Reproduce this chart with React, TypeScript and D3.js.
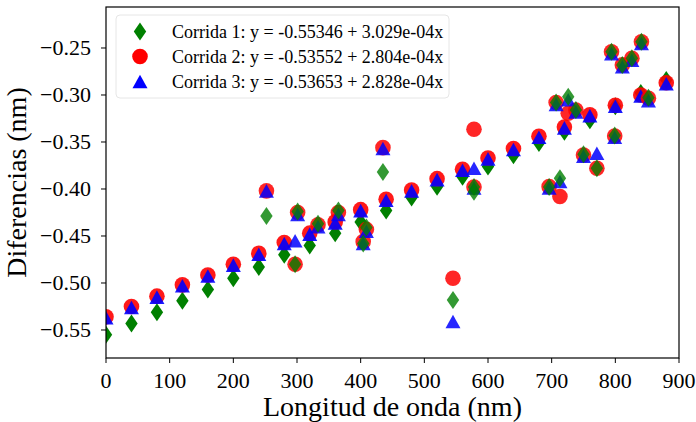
import React from "react";
import * as d3 from "d3";

// Regular sweep (every 40 nm)
const mainX = [0, 40, 80, 120, 160, 200, 240, 280, 320, 360, 400, 440, 480, 520, 560, 600, 640, 680, 720, 760, 800, 840, 880];
const mainRun1 = [-0.555, -0.543, -0.531, -0.519, -0.507, -0.495, -0.483, -0.470, -0.460, -0.447, -0.435, -0.423, -0.409, -0.3975, -0.387, -0.376, -0.364, -0.351, -0.339, -0.327, -0.312, -0.298, -0.284];
const mainRun2 = [-0.536, -0.525, -0.514, -0.502, -0.4915, -0.480, -0.4685, -0.457, -0.447, -0.435, -0.422, -0.411, -0.401, -0.389, -0.379, -0.367, -0.357, -0.344, -0.334, -0.321, -0.311, -0.300, -0.287];
const mainRun3 = [-0.537, -0.526, -0.515, -0.503, -0.4925, -0.481, -0.4695, -0.458, -0.448, -0.436, -0.423, -0.412, -0.402, -0.390, -0.380, -0.368, -0.358, -0.345, -0.335, -0.322, -0.312, -0.301, -0.288];

// Additional measurements
const extraX = [252, 297, 301, 333, 365, 404, 409, 435, 545, 578, 578, 696, 707, 713, 726, 738, 750, 771, 794, 799, 811, 826, 841, 852];
const extraRun1 = [-0.4287, -0.480, -0.424, -0.437, -0.423, -0.458, -0.441, -0.382, -0.518, -0.398, -0.403, -0.398, -0.308, -0.3886, -0.302, -0.316, -0.363, -0.378, -0.254, -0.343, -0.268, -0.261, -0.2433, -0.303];
const extraRun2 = [-0.402, -0.480, -0.425, -0.438, -0.425, -0.456, -0.443, -0.356, -0.495, -0.398, -0.3365, -0.3975, -0.308, -0.408, -0.3195, -0.316, -0.3638, -0.378, -0.254, -0.3436, -0.268, -0.261, -0.2433, -0.3035];
const extraRun3 = [-0.402, -0.455, -0.427, -0.440, -0.427, -0.458, -0.445, -0.357, -0.541, -0.399, -0.378, -0.399, -0.310, -0.392, -0.305, -0.318, -0.365, -0.362, -0.256, -0.345, -0.270, -0.263, -0.2453, -0.306];

const xTicks = [0, 100, 200, 300, 400, 500, 600, 700, 800, 900];
const yTicks = [-0.55, -0.5, -0.45, -0.4, -0.35, -0.3, -0.25];
const legendLabels = [
  "Corrida 1: y = -0.55346 + 3.029e-04x",
  "Corrida 2: y = -0.53552 + 2.804e-04x",
  "Corrida 3: y = -0.53653 + 2.828e-04x",
];

const W = 696;
const H = 422;
const L = 106, R = 679, T = 7, B = 358;
const FONT = "Liberation Serif, Times New Roman, Times, serif";

const xScale = d3.scaleLinear().domain([0, 900]).range([L, R]);
const yScale = d3.scaleLinear().domain([-0.5798, -0.2064]).range([B, T]);

const diamond = (cx: number, cy: number) => {
  const hw = 6.2, hh = 9;
  return `M${cx},${cy - hh}L${cx + hw},${cy}L${cx},${cy + hh}L${cx - hw},${cy}Z`;
};
const triangle = (cx: number, cy: number) => {
  const hw = 7.5, hh = 6.8;
  return `M${cx},${cy - hh}L${cx + hw},${cy + hh}L${cx - hw},${cy + hh}Z`;
};

const GREEN = "#008000";
const RED = "#ff0000";
const BLUE = "#0000ff";

const txt = { fontFamily: FONT };

export default function App() {
  const fmt = (v: number) => v.toFixed(2).replace("-", "\u2212");
  const circles = (xs: number[], ys: number[], op: number, key: string) =>
    xs.map((x, i) => (
      <circle key={key + i} cx={xScale(x)} cy={yScale(ys[i])} r={7.8} fill={RED} fillOpacity={op} />
    ));
  const tris = (xs: number[], ys: number[], op: number, key: string) =>
    xs.map((x, i) => (
      <path key={key + i} d={triangle(xScale(x), yScale(ys[i]))} fill={BLUE} fillOpacity={op} />
    ));
  const dias = (xs: number[], ys: number[], op: number, key: string) =>
    xs.map((x, i) => (
      <path key={key + i} d={diamond(xScale(x), yScale(ys[i]))} fill={GREEN} fillOpacity={op} />
    ));

  const legRows = [31.5, 56.5, 81.5];
  return (
    <svg width={W} height={H} style={{ position: "absolute", left: 0, top: 0, background: "#fff" }}>
      <rect x={0} y={0} width={W} height={H} fill="#fff" />
      <defs>
        <clipPath id="plotclip">
          <rect x={L} y={T} width={R - L} height={B - T} />
        </clipPath>
      </defs>
      <g clipPath="url(#plotclip)">
        {dias(mainX, mainRun1, 1, "mg")}
        {circles(mainX, mainRun2, 0.9, "mr")}
        {tris(mainX, mainRun3, 0.9, "mb")}
        {circles(extraX, extraRun2, 0.85, "er")}
        {tris(extraX, extraRun3, 0.85, "eb")}
        {dias(extraX, extraRun1, 0.8, "eg")}
      </g>
      <rect x={L} y={T} width={R - L} height={B - T} fill="none" stroke="#000" strokeWidth={1.2} />
      {xTicks.map((t) => (
        <g key={"xt" + t}>
          <line x1={xScale(t)} x2={xScale(t)} y1={B} y2={B + 5} stroke="#000" strokeWidth={1} />
          <text x={xScale(t)} y={388} textAnchor="middle" fontSize={22} fill="#000" style={txt}>{t}</text>
        </g>
      ))}
      {yTicks.map((t) => (
        <g key={"yt" + t}>
          <line x1={L - 5} x2={L} y1={yScale(t)} y2={yScale(t)} stroke="#000" strokeWidth={1} />
          <text x={91} y={yScale(t)} dy="0.34em" textAnchor="end" fontSize={22} fill="#000" style={txt}>{fmt(t)}</text>
        </g>
      ))}
      <text x={(L + R) / 2} y={416} textAnchor="middle" fontSize={28} fill="#000" style={txt}>Longitud de onda (nm)</text>
      <text transform={`translate(26,${(T + B) / 2}) rotate(-90)`} textAnchor="middle" fontSize={28} fill="#000" style={txt}>Diferencias (nm)</text>
      <rect x={116} y={15} width={333} height={83} rx={4} fill="#fff" fillOpacity={0.8} stroke="#e6e6e6" strokeWidth={1} />
      <path d={diamond(140, legRows[0])} fill={GREEN} />
      <circle cx={140} cy={legRows[1]} r={7.8} fill={RED} />
      <path d={triangle(140, legRows[2])} fill={BLUE} />
      {legendLabels.map((s, i) => (
        <text key={"lg" + i} x={172} y={legRows[i]} dy="0.34em" fontSize={18} fill="#000" style={txt}>{s}</text>
      ))}
    </svg>
  );
}
